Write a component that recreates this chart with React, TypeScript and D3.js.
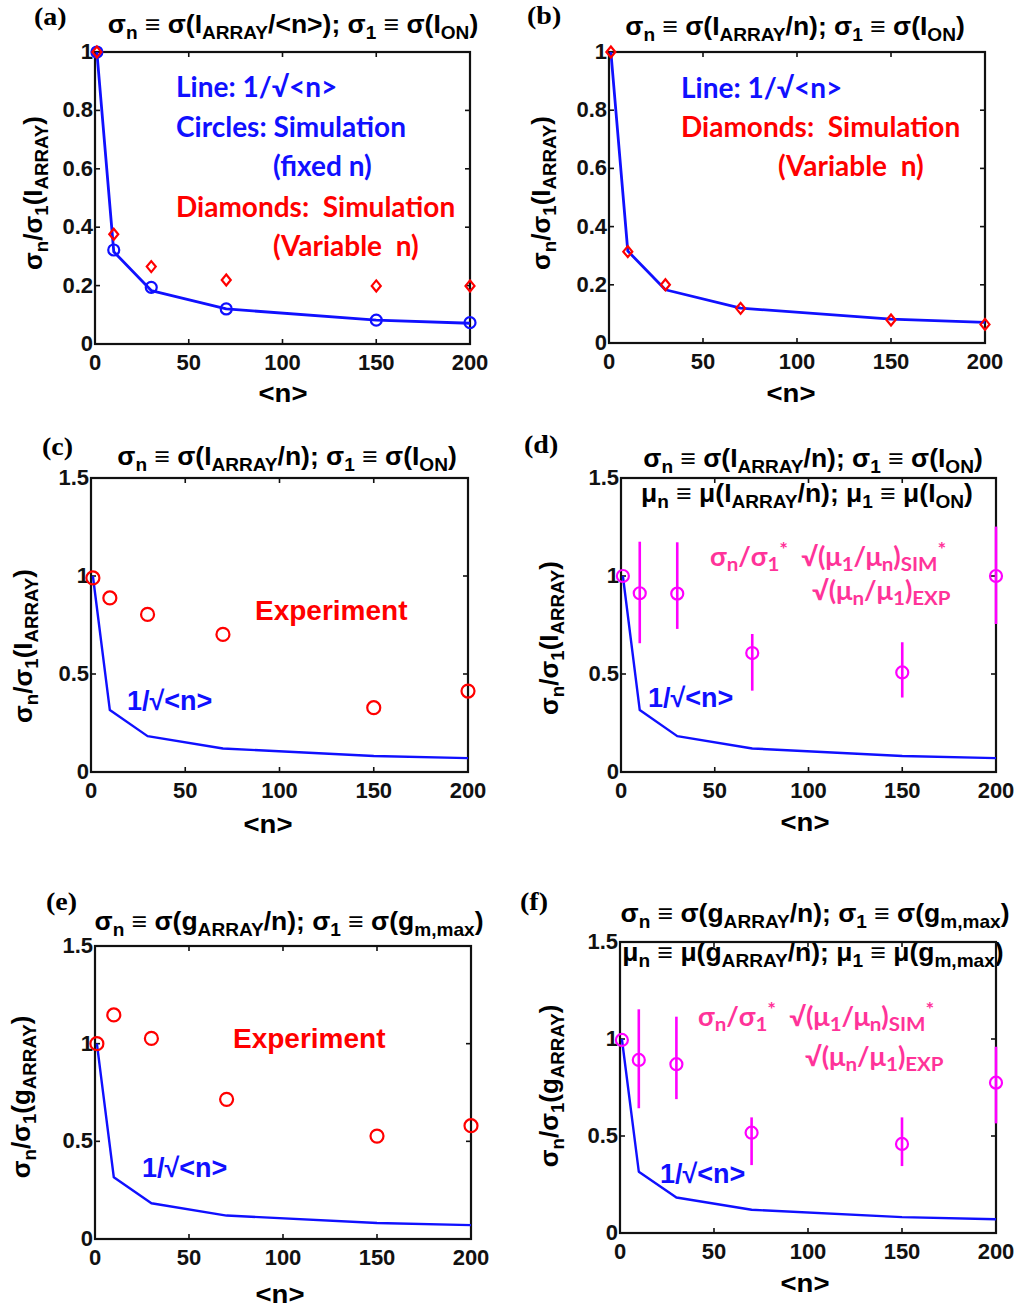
import React from "react";
import * as d3 from "d3";

// ---------- data ----------
const N_VALUES = [1, 10, 30, 70, 150, 200];
const INV_SQRT_N = [1, 0.316, 0.183, 0.12, 0.082, 0.071];

const A_CIRCLES = [1, 0.322, 0.194, 0.12, 0.082, 0.073];
const A_DIAMONDS = [1, 0.376, 0.265, 0.219, 0.199, 0.199];
const B_DIAMONDS = [1, 0.314, 0.2, 0.119, 0.079, 0.064];
const C_EXPERIMENT = [0.99, 0.888, 0.804, 0.702, 0.328, 0.413];
const D_VALUES = [1.0, 0.912, 0.91, 0.607, 0.508, 1.0];
const D_LOW = [null, 0.657, 0.73, 0.415, 0.38, 0.755];
const D_HIGH = [null, 1.175, 1.172, 0.704, 0.662, 1.252];
const E_EXPERIMENT = [1.0, 1.147, 1.027, 0.715, 0.527, 0.58];
const F_VALUES = [0.995, 0.892, 0.87, 0.517, 0.459, 0.775];
const F_LOW = [null, 0.643, 0.69, 0.35, 0.345, 0.565];
const F_HIGH = [null, 1.153, 1.115, 0.596, 0.596, 0.96];

const X_TICKS = [0, 50, 100, 150, 200];
const Y_TICKS_1 = [0, 0.2, 0.4, 0.6, 0.8, 1];
const Y_TICKS_15 = [0, 0.5, 1, 1.5];

const SANS = "'Liberation Sans', Arial, sans-serif";
const CAL = "Lato, 'Open Sans', sans-serif";
const SERIF = "'Liberation Serif', 'Times New Roman', serif";
const BLUE = "#1010ff";
const RED = "#ff0000";
const MAG = "#ff00ff";
const PINK = "#ff3399";

// ---------- rich text with _{sub} and ^{sup} ----------
function parse(text: string) {
  const out: { t: string; m: number }[] = [];
  const re = /([_^])\{([^}]*)\}/g;
  let last = 0;
  let mm: RegExpExecArray | null;
  while ((mm = re.exec(text))) {
    if (mm.index > last) out.push({ t: text.slice(last, mm.index), m: 0 });
    out.push({ t: mm[2], m: mm[1] === "_" ? 1 : 2 });
    last = re.lastIndex;
  }
  if (last < text.length) out.push({ t: text.slice(last), m: 0 });
  return out;
}

function Rich(props: any) {
  const { text, x, y, size, anchor = "start", fill = "#000", family = SANS, rotate = 0, sub = 0.7, sx = 1, subShift = 0.22 } = props;
  const segs = parse(text);
  let cur = 0;
  const tr = `translate(${x},${y})${rotate ? ` rotate(${rotate})` : ""} scale(${sx},1)`;
  return (
    <text x={0} y={0} fontSize={size} fontFamily={family} fontWeight="bold" fill={fill}
      textAnchor={anchor} transform={tr} style={{ whiteSpace: "pre" }}>
      {segs.map((s, i) => {
        const target = s.m === 1 ? size * subShift : s.m === 2 ? -size * 0.38 : 0;
        const dy = target - cur;
        cur = target;
        return (
          <tspan key={i} dy={dy} fontSize={s.m === 0 ? size : size * sub}>{s.t}</tspan>
        );
      })}
    </text>
  );
}

// ---------- panel ----------
function Panel(p: any) {
  const { box, yDomain, yTicks, label, titles, ylabel, xlabel, series, notes, lw = 2.4 } = p;
  const x = d3.scaleLinear().domain([0, 200]).range([box.l, box.r]);
  const y = d3.scaleLinear().domain(yDomain).range([box.b, box.t]);
  const line = d3.line<number>().x((_, i) => x(N_VALUES[i])).y((d) => y(d));
  const tk = 5;
  return (
    <g>
      <text x={0} y={0} transform={`translate(${label.x},${label.y}) scale(1.12,1)`} fontFamily={SERIF} fontWeight="bold" fontSize={25}>{label.t}</text>
      {titles.map((t: any, i: number) => (
        <Rich key={i} text={t.t} x={t.x} y={t.y} size={25} sx={1.06} sub={0.72} anchor="middle" />
      ))}
      {/* frame */}
      <rect x={box.l} y={box.t} width={box.r - box.l} height={box.b - box.t} fill="none" stroke="#111" strokeWidth={2.2} />
      {X_TICKS.map((v) => (
        <g key={"x" + v}>
          <line x1={x(v)} x2={x(v)} y1={box.b} y2={box.b - tk} stroke="#111" strokeWidth={1.6} />
          <line x1={x(v)} x2={x(v)} y1={box.t} y2={box.t + tk} stroke="#111" strokeWidth={1.6} />
          <text x={x(v)} y={box.b + 26} textAnchor="middle" fontFamily={SANS} fontWeight="bold" fontSize={22} fill="#111">{v}</text>
        </g>
      ))}
      {yTicks.map((v: number) => (
        <g key={"y" + v}>
          <line x1={box.l} x2={box.l + tk} y1={y(v)} y2={y(v)} stroke="#111" strokeWidth={1.6} />
          <line x1={box.r} x2={box.r - tk} y1={y(v)} y2={y(v)} stroke="#111" strokeWidth={1.6} />
          <text x={box.l - 2} y={y(v) + 7} textAnchor="end" fontFamily={SANS} fontWeight="bold" fontSize={22} fill="#111">{String(v)}</text>
        </g>
      ))}
      <Rich text={ylabel.t} x={ylabel.x} y={ylabel.y} size={26} sub={0.72} anchor="middle" rotate={-90} />
      <text x={0} y={0} transform={`translate(${xlabel.x},${xlabel.y}) scale(1.1,1)`} textAnchor="middle" fontFamily={SANS} fontWeight="bold" fontSize={25}>{"<n>"}</text>
      {/* theory line */}
      <path d={line(INV_SQRT_N) || ""} fill="none" stroke={BLUE} strokeWidth={lw} strokeLinejoin="round" />
      {series.map((s: any, si: number) => (
        <g key={si}>
          {s.lo && s.values.map((v: number, i: number) =>
            s.lo[i] == null ? null : (
              <line key={"e" + i} x1={x(N_VALUES[i])} x2={x(N_VALUES[i])} y1={y(s.lo[i])} y2={y(s.hi[i])}
                stroke={s.color} strokeWidth={2.6} />
            ))}
          {s.values.map((v: number, i: number) => {
            const cx = x(N_VALUES[i]);
            const cy = y(v);
            if (s.type === "diamond") {
              const h = s.r;
              return <path key={i} d={`M${cx},${cy - h * 1.1}L${cx + h * 0.9},${cy}L${cx},${cy + h * 1.1}L${cx - h * 0.9},${cy}Z`}
                fill="none" stroke={s.color} strokeWidth={2.2} />;
            }
            return <circle key={i} cx={cx} cy={cy} r={s.r} fill="none" stroke={s.color} strokeWidth={2.2} />;
          })}
        </g>
      ))}
      {notes.map((n: any, i: number) => (
        <Rich key={i} text={n.t} x={n.x} y={n.y} size={n.s} fill={n.c} family={n.f || SANS}
          sub={n.sub || 0.7} sx={n.sx || 1} subShift={n.ss || 0.22} />
      ))}
    </g>
  );
}

const TITLE_I = "σ_{n} ≡ σ(I_{ARRAY}/n); σ_{1} ≡ σ(I_{ON})";
const TITLE_MU_I = "μ_{n} ≡ μ(I_{ARRAY}/n); μ_{1} ≡ μ(I_{ON})";
const TITLE_G = "σ_{n} ≡ σ(g_{ARRAY}/n); σ_{1} ≡ σ(g_{m,max})";
const TITLE_MU_G = "μ_{n} ≡ μ(g_{ARRAY}/n); μ_{1} ≡ μ(g_{m,max})";
const YL_I = "σ_{n}/σ_{1}(I_{ARRAY})";
const YL_G = "σ_{n}/σ_{1}(g_{ARRAY})";
const PINK1 = "σ_{n}/σ_{1}^{*}  √(μ_{1}/μ_{n})_{SIM}^{*}";
const PINK2 = "√(μ_{n}/μ_{1})_{EXP}";

export default function App() {
  return (
    <svg width={1018} height={1310} style={{ position: "absolute", left: 0, top: 0, background: "#fff" }}>
      <rect width={1018} height={1310} fill="#fff" />
      <Panel
        box={{ l: 95, r: 470, t: 52, b: 344 }} yDomain={[0, 1]} yTicks={Y_TICKS_1} lw={2.8}
        label={{ t: "(a)", x: 34, y: 25 }}
        titles={[{ t: "σ_{n} ≡ σ(I_{ARRAY}/<n>); σ_{1} ≡ σ(I_{ON})", x: 293, y: 33 }]}
        ylabel={{ t: YL_I, x: 42, y: 193 }} xlabel={{ x: 283, y: 402 }}
        series={[
          { type: "circle", values: A_CIRCLES, color: BLUE, r: 5.5 },
          { type: "diamond", values: A_DIAMONDS, color: RED, r: 5 },
        ]}
        notes={[
          { t: "Line: 1/√<n>", x: 176, y: 97, s: 28, c: BLUE, f: CAL },
          { t: "Circles: Simulation", x: 176, y: 137, s: 28, c: BLUE, f: CAL },
          { t: "(fixed n)", x: 273, y: 176, s: 28, c: BLUE, f: CAL },
          { t: "Diamonds:  Simulation", x: 176, y: 217, s: 28, c: RED, f: CAL },
          { t: "(Variable  n)", x: 273, y: 256, s: 28, c: RED, f: CAL },
        ]}
      />
      <Panel
        box={{ l: 609, r: 985, t: 52, b: 343 }} yDomain={[0, 1]} yTicks={Y_TICKS_1} lw={2.8}
        label={{ t: "(b)", x: 527, y: 24 }}
        titles={[{ t: TITLE_I, x: 795, y: 35 }]}
        ylabel={{ t: YL_I, x: 550, y: 193 }} xlabel={{ x: 791, y: 402 }}
        series={[{ type: "diamond", values: B_DIAMONDS, color: RED, r: 5 }]}
        notes={[
          { t: "Line: 1/√<n>", x: 681, y: 98, s: 28, c: BLUE, f: CAL },
          { t: "Diamonds:  Simulation", x: 681, y: 137, s: 28, c: RED, f: CAL },
          { t: "(Variable  n)", x: 778, y: 176, s: 28, c: RED, f: CAL },
        ]}
      />
      <Panel
        box={{ l: 91, r: 468, t: 478, b: 772 }} yDomain={[0, 1.5]} yTicks={Y_TICKS_15}
        label={{ t: "(c)", x: 42, y: 455 }}
        titles={[{ t: TITLE_I, x: 287, y: 465 }]}
        ylabel={{ t: YL_I, x: 32, y: 646 }} xlabel={{ x: 268, y: 833 }}
        series={[{ type: "circle", values: C_EXPERIMENT, color: RED, r: 6.5 }]}
        notes={[
          { t: "Experiment", x: 255, y: 620, s: 28, c: RED },
          { t: "1/√<n>", x: 127, y: 710, s: 27, c: BLUE },
        ]}
      />
      <Panel
        box={{ l: 621, r: 996, t: 478, b: 772 }} yDomain={[0, 1.5]} yTicks={Y_TICKS_15}
        label={{ t: "(d)", x: 524, y: 453 }}
        titles={[{ t: TITLE_I, x: 813, y: 467 }, { t: TITLE_MU_I, x: 807, y: 502 }]}
        ylabel={{ t: YL_I, x: 558, y: 638 }} xlabel={{ x: 805, y: 831 }}
        series={[{ type: "circle", values: D_VALUES, lo: D_LOW, hi: D_HIGH, color: MAG, r: 6 }]}
        notes={[
          { t: "1/√<n>", x: 648, y: 707, s: 27, c: BLUE },
          { t: PINK1, x: 710, y: 566, s: 26, c: PINK, f: CAL, sub: 0.76, sx: 1.04, ss: 0.18 },
          { t: PINK2, x: 812, y: 600, s: 26, c: PINK, f: CAL, sub: 0.76, sx: 1.04, ss: 0.18 },
        ]}
      />
      <Panel
        box={{ l: 95, r: 471, t: 946, b: 1239 }} yDomain={[0, 1.5]} yTicks={Y_TICKS_15}
        label={{ t: "(e)", x: 46, y: 910 }}
        titles={[{ t: TITLE_G, x: 289, y: 930 }]}
        ylabel={{ t: YL_G, x: 30, y: 1097 }} xlabel={{ x: 280, y: 1303 }}
        series={[{ type: "circle", values: E_EXPERIMENT, color: RED, r: 6.5 }]}
        notes={[
          { t: "Experiment", x: 233, y: 1048, s: 28, c: RED },
          { t: "1/√<n>", x: 142, y: 1177, s: 27, c: BLUE },
        ]}
      />
      <Panel
        box={{ l: 620, r: 996, t: 942, b: 1233 }} yDomain={[0, 1.5]} yTicks={Y_TICKS_15}
        label={{ t: "(f)", x: 520, y: 910 }}
        titles={[{ t: TITLE_G, x: 815, y: 922 }, { t: TITLE_MU_G, x: 813, y: 961 }]}
        ylabel={{ t: YL_G, x: 558, y: 1086 }} xlabel={{ x: 805, y: 1292 }}
        series={[{ type: "circle", values: F_VALUES, lo: F_LOW, hi: F_HIGH, color: MAG, r: 6 }]}
        notes={[
          { t: "1/√<n>", x: 660, y: 1183, s: 27, c: BLUE },
          { t: PINK1, x: 698, y: 1026, s: 26, c: PINK, f: CAL, sub: 0.76, sx: 1.04, ss: 0.18 },
          { t: PINK2, x: 805, y: 1066, s: 26, c: PINK, f: CAL, sub: 0.76, sx: 1.04, ss: 0.18 },
        ]}
      />
    </svg>
  );
}
